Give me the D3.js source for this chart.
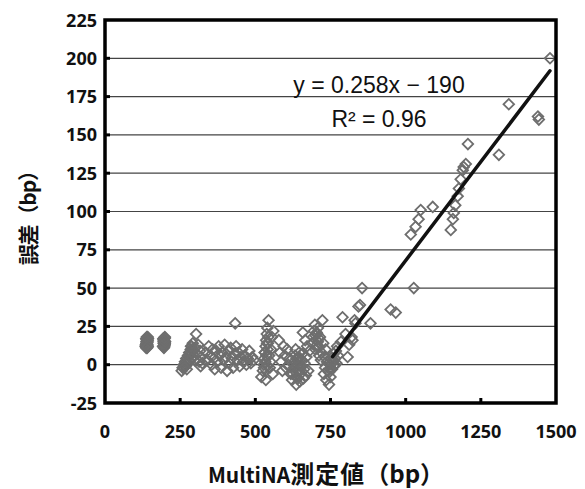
<!DOCTYPE html>
<html lang="ja">
<head>
<meta charset="UTF-8">
<title>誤差 vs MultiNA測定値</title>
<script src="https://d3js.org/d3.v7.min.js"></script>
<style>
    body { margin: 0; background: #fff; }
    .tick-label { font-family: "Noto Sans", "Noto Sans CJK JP", sans-serif; font-weight: bold; font-size: 18px; fill: #111; }
    .axis-title { font-family: "Noto Sans CJK JP", "Noto Sans", sans-serif; font-weight: bold; font-size: 21px; fill: #111; }
    .eq { font-family: "Liberation Sans", Arial, sans-serif; font-size: 23px; fill: #111; }
</style>
</head>
<body>
<div id="chart"></div>
<script>
    // measured value (bp) vs error (bp)
    const xVals = [
        135, 138, 140, 142, 137, 141, 139, 143, 136, 140, 138, 141, 139, 142, 137,
        139, 140, 141, 139, 140, 138, 142, 137, 141, 139,
        193, 195, 197, 199, 196, 198, 200, 194, 197, 195, 199, 196, 198,
        196, 197, 198, 195, 199, 197, 196, 198,
        255, 258, 262, 266, 270, 272, 276, 280, 282, 285, 288, 290, 292, 295, 298, 300, 303, 306, 310, 313, 316, 320, 324, 318,
        284, 287, 290, 286, 289, 278, 274, 268, 264,
        335, 340, 345, 350, 355, 358, 362, 365, 370, 374, 378, 382, 386, 390, 395, 398, 402, 406, 410, 414, 418, 422, 426, 430, 433, 436, 440, 444, 448, 452, 456, 460, 465, 470, 475, 480, 485, 490, 495,
        520, 525, 528, 530, 532, 534, 536, 538, 540, 542, 544, 546, 548, 550, 552, 555, 558, 560, 535, 540,
        533, 537, 541, 539, 543, 531, 529,
        578, 582, 586, 590, 594, 598, 602, 606, 610, 614, 618,
        622, 625, 628, 630, 632, 634, 636, 638, 640, 642, 644, 646, 648, 650, 652, 654, 656, 658, 660, 662, 664, 666, 668, 670, 672, 676, 680,
        635, 639, 643, 647, 651, 645, 641, 637,
        688, 692, 695, 698, 700, 703, 706, 708, 710, 712, 715, 718, 720, 723, 726, 730, 734,
        700, 704, 708, 712, 705, 709,
        728, 732, 736, 738, 742, 745, 748, 750, 752, 755, 758, 760, 762, 765, 768, 770, 772, 775,
        745, 750, 755, 760, 765,
        790, 785, 800, 807, 812, 820, 823, 830, 833, 843, 848, 855, 883, 950, 967,
        1027, 1017, 1033, 1043, 1050, 1090,
        1150, 1157, 1160, 1165, 1173, 1177, 1183, 1190, 1193, 1200, 1207,
        1310, 1343, 1440, 1443, 1480
    ];
    const yVals = [
        12, 14, 16, 18, 11, 13, 15, 17, 13, 11, 15, 16, 14, 12, 17,
        11.5, 12.5, 14.5, 16.5, 17.5, 13.5, 15.5, 12.5, 11.5, 18,
        12, 14, 16, 18, 11, 13, 15, 17, 12, 15, 14, 16, 13,
        11.5, 12.5, 14.5, 16.5, 17.5, 13.5, 15.5, 17.5,
        -4, -2, 0, 2, 4, -3, 6, 8, 2, 10, 12, 5, 14, 9, 3, 11, 20, 7, 13, 2, 9, 5, 1, -1,
        6, 8, 10, 12, 4, 3, 1, -1, -2,
        8, 3, 12, 6, 0, 10, 4, -3, 9, 2, 12, 6, -2, 8, 3, 13, 5, -4, 9, 1, 11, 4, -2, 7, 27, 12, 3, 8, -1, 5, 10, 2, 6, 0, 4, 9, 1, 5, 3,
        -8, -4, 0, 4, 8, 12, 16, 20, 24, 14, 29, 6, -2, 2, 10, 18, -6, 22, -10, -1,
        2, 6, 10, 14, 18, 8, -2,
        16, 8, 2, -4, 12, 6, -2, 10, 0, 4, -6,
        -10, -6, -2, 2, 6, 10, -13, -8, -4, 0, 4, 8, -11, -6, -1, 3, 7, 21, -9, -3, 1, 16, -7, 5, 12, -4, 9,
        -5, -1, 2, -3, 0, 5, -9, 4,
        14, 18, 22, 26, 10, 16, 20, 24, 12, 6, 18, 3, 8, 29, 14, 5, 10,
        19, 21, 15, 17, 13, 11,
        -6, -2, -10, 2, -4, -13, 0, -8, 4, -3, 2, 7, -1, 4, 9, 1, 12, 6,
        -5, -2, 1, 3, 0,
        31, 15, 20, 5, 13, 18, 16, 29, 27, 38, 39, 50, 27, 36, 34,
        50, 85, 90, 95, 101, 103,
        88, 95, 99, 104, 110, 115, 121, 127, 129, 131, 144,
        137, 170, 162, 160, 200
    ];
    const points = xVals.map((x, i) => ({ x: x, y: yVals[i] }));

    // linear fit shown on chart
    const slope = 0.258;
    const intercept = -190;
    const fitRange = [757, 1480];

    const xTicks = [0, 250, 500, 750, 1000, 1250, 1500];
    const yTicks = [-25, 0, 25, 50, 75, 100, 125, 150, 175, 200, 225];

    const width = 585, height = 489;
    const margin = { left: 105, right: 29, top: 20, bottom: 86 };

    const svg = d3.select("#chart").append("svg")
        .attr("width", width)
        .attr("height", height);

    const x = d3.scaleLinear().domain([0, 1500]).range([margin.left, width - margin.right]);
    const y = d3.scaleLinear().domain([-25, 225]).range([height - margin.bottom, margin.top]);

    // gridlines
    svg.append("g")
        .selectAll("line")
        .data(yTicks.slice(1, -1))
        .join("line")
        .attr("x1", x(0)).attr("x2", x(1500))
        .attr("y1", d => y(d)).attr("y2", d => y(d))
        .attr("stroke", "#444")
        .attr("stroke-width", 1.2);

    // inward tick marks
    svg.append("g")
        .selectAll("line")
        .data(xTicks.slice(1, -1))
        .join("line")
        .attr("x1", d => x(d)).attr("x2", d => x(d))
        .attr("y1", y(-25)).attr("y2", y(-25) - 5)
        .attr("stroke", "#000").attr("stroke-width", 3);
    svg.append("g")
        .selectAll("line")
        .data(yTicks.slice(1, -1))
        .join("line")
        .attr("x1", x(0)).attr("x2", x(0) + 5)
        .attr("y1", d => y(d)).attr("y2", d => y(d))
        .attr("stroke", "#000").attr("stroke-width", 3);

    // points: diamond outlines, no fill (overlaps build up to solid grey)
    const diamond = d3.symbol().type(d3.symbolSquare).size(56);
    svg.append("g")
        .selectAll("path")
        .data(points)
        .join("path")
        .attr("d", diamond)
        .attr("transform", d => `translate(${x(d.x)},${y(d.y)}) rotate(45)`)
        .attr("fill", "none")
        .attr("stroke", "#6e6e6e")
        .attr("stroke-width", 1.8);

    // trend line
    svg.append("line")
        .attr("x1", x(fitRange[0])).attr("y1", y(slope * fitRange[0] + intercept))
        .attr("x2", x(fitRange[1])).attr("y2", y(slope * fitRange[1] + intercept))
        .attr("stroke", "#111")
        .attr("stroke-width", 3.5)
        .attr("stroke-linecap", "round");

    // frame
    svg.append("rect")
        .attr("x", x(0)).attr("y", y(225))
        .attr("width", x(1500) - x(0))
        .attr("height", y(-25) - y(225))
        .attr("fill", "none")
        .attr("stroke", "#000")
        .attr("stroke-width", 3.5);

    // tick labels
    svg.append("g")
        .selectAll("text")
        .data(xTicks)
        .join("text")
        .attr("class", "tick-label")
        .attr("x", d => x(d))
        .attr("y", 438)
        .attr("text-anchor", "middle")
        .text(d => d);
    svg.append("g")
        .selectAll("text")
        .data(yTicks)
        .join("text")
        .attr("class", "tick-label")
        .attr("x", 97)
        .attr("y", d => y(d) + 6.5)
        .attr("text-anchor", "end")
        .text(d => d);

    // axis titles
    const xTitle = svg.append("text")
        .attr("class", "axis-title")
        .attr("x", 326).attr("y", 483)
        .attr("text-anchor", "middle");
    xTitle.append("tspan").text("MultiNA");
    xTitle.append("tspan")
        .style("font-size", "24px")
        .style("letter-spacing", "1px")
        .text("測定値");
    xTitle.append("tspan")
        .style("font-size", "24px")
        .text("（bp）");

    svg.append("text")
        .attr("class", "axis-title")
        .attr("transform", "translate(36,265) rotate(-90)")
        .attr("textLength", 105)
        .attr("lengthAdjust", "spacing")
        .text("誤差（bp）");

    // equation
    svg.append("text")
        .attr("class", "eq")
        .attr("x", 379).attr("y", 93)
        .attr("text-anchor", "middle")
        .text("y = 0.258x − 190");
    svg.append("text")
        .attr("class", "eq")
        .attr("x", 379).attr("y", 127)
        .attr("text-anchor", "middle")
        .text("R² = 0.96");
</script>
</body>
</html>
